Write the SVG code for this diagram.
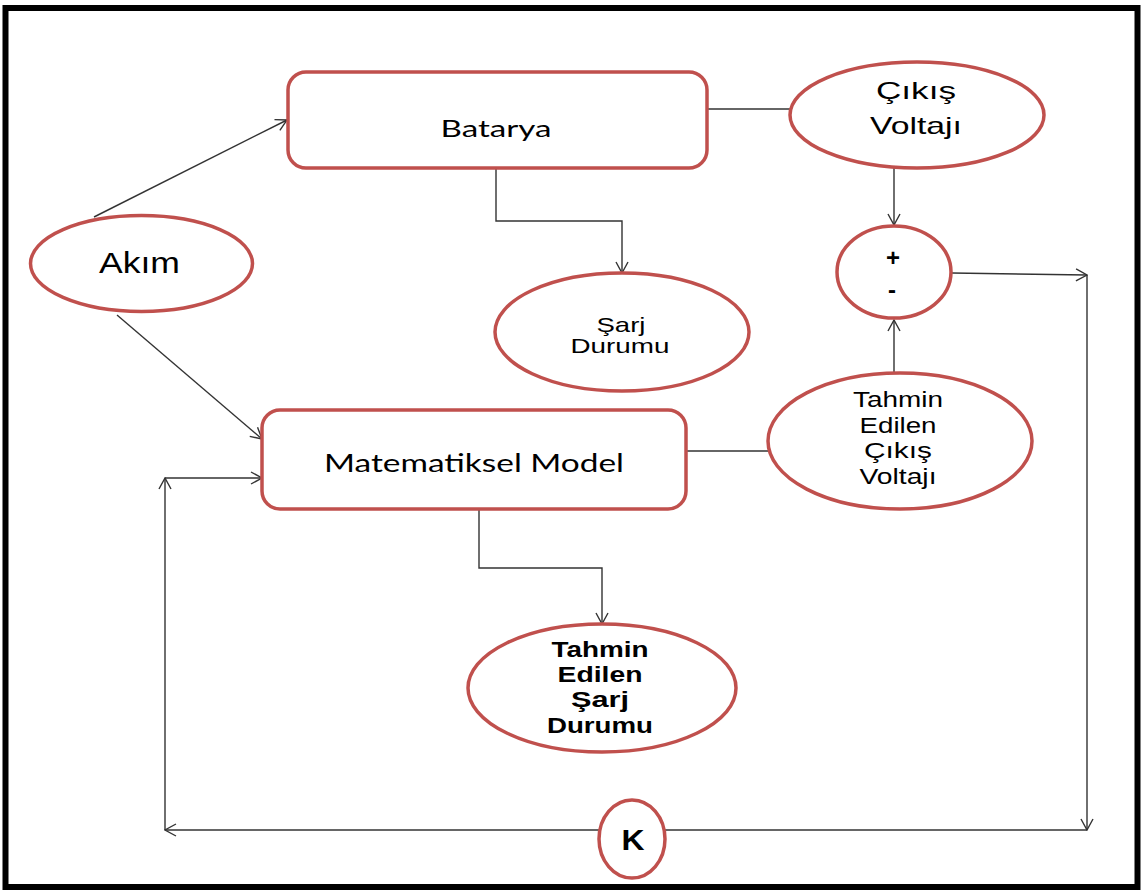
<svg xmlns="http://www.w3.org/2000/svg" width="1143" height="891" viewBox="0 0 1143 891">
<defs>
<marker id="arr" markerUnits="userSpaceOnUse" markerWidth="14" markerHeight="14" viewBox="0 0 14 14" refX="13" refY="7" orient="auto">
<path d="M2,1 L13,7 L2,13" fill="none" stroke="#333" stroke-width="1.4"/>
</marker>
<style>
.node{fill:#fff;stroke:#C0504D;stroke-width:3.5}
.conn{fill:none;stroke:#333;stroke-width:1.4}
.ar{font-family:"Liberation Sans",Arial,sans-serif;fill:#000;text-anchor:middle}
.cal{font-family:Lato,"Liberation Sans",sans-serif;fill:#000;text-anchor:middle}
.b{font-weight:bold}
</style>
</defs>
<rect x="5.5" y="8" width="1132" height="879" fill="#fff" stroke="#000" stroke-width="6"/>
<g id="connectors">
<line class="conn" x1="94" y1="217" x2="287" y2="120" marker-end="url(#arr)"/>
<line class="conn" x1="117" y1="315" x2="262" y2="439" marker-end="url(#arr)"/>
<line class="conn" x1="707" y1="109" x2="790" y2="109"/>
<line class="conn" x1="894" y1="168" x2="894" y2="225" marker-end="url(#arr)"/>
<polyline class="conn" points="496,168 496,221 622,221 622,273" marker-end="url(#arr)"/>
<line class="conn" x1="686" y1="451" x2="768" y2="451"/>
<line class="conn" x1="894" y1="373" x2="894" y2="320" marker-end="url(#arr)"/>
<polyline class="conn" points="479,509 479,568 602,568 602,624" marker-end="url(#arr)"/>
<line class="conn" x1="952" y1="273" x2="1087" y2="275" marker-end="url(#arr)"/>
<line class="conn" x1="1087" y1="275" x2="1087" y2="830" marker-end="url(#arr)"/>
<line class="conn" x1="1087" y1="830" x2="165" y2="830" marker-end="url(#arr)"/>
<line class="conn" x1="165" y1="830" x2="165" y2="478" marker-end="url(#arr)"/>
<line class="conn" x1="165" y1="478" x2="262" y2="478" marker-end="url(#arr)"/>
</g>
<g id="batarya">
<rect class="node" x="288" y="72" width="419" height="96" rx="18"/>
<text class="cal" x="496" y="137" font-size="24" textLength="111" lengthAdjust="spacingAndGlyphs">Batarya</text>
</g>
<g id="akim">
<ellipse class="node" cx="141.5" cy="263.5" rx="111" ry="48"/>
<text class="ar" x="139.5" y="273" font-size="29" textLength="81" lengthAdjust="spacingAndGlyphs">Akım</text>
</g>
<g id="cikis-voltaji">
<ellipse class="node" cx="917" cy="115" rx="127" ry="53"/>
<text class="ar" x="916" y="99" font-size="24" textLength="80" lengthAdjust="spacingAndGlyphs">Çıkış</text>
<text class="ar" x="916" y="134" font-size="24" textLength="92" lengthAdjust="spacingAndGlyphs">Voltajı</text>
</g>
<g id="toplayici">
<ellipse class="node" cx="894" cy="272" rx="57" ry="46"/>
<text class="ar b" x="893" y="266" font-size="24">+</text>
<text class="ar b" x="892" y="298" font-size="24">-</text>
</g>
<g id="sarj-durumu">
<ellipse class="node" cx="622" cy="332" rx="127" ry="59"/>
<text class="ar" x="621" y="332" font-size="21" textLength="49" lengthAdjust="spacingAndGlyphs">Şarj</text>
<text class="ar" x="620" y="353" font-size="21" textLength="99" lengthAdjust="spacingAndGlyphs">Durumu</text>
</g>
<g id="matematiksel-model">
<rect class="node" x="262" y="410" width="424" height="99" rx="18"/>
<text class="cal" x="474" y="472" font-size="25" textLength="300" lengthAdjust="spacingAndGlyphs">Matematiksel Model</text>
</g>
<g id="tahmin-cikis-voltaji">
<ellipse class="node" cx="900" cy="441" rx="132" ry="68"/>
<text class="ar" x="898" y="407" font-size="22" textLength="90" lengthAdjust="spacingAndGlyphs">Tahmin</text>
<text class="ar" x="898" y="433" font-size="22" textLength="77" lengthAdjust="spacingAndGlyphs">Edilen</text>
<text class="ar" x="898" y="458" font-size="22" textLength="68" lengthAdjust="spacingAndGlyphs">Çıkış</text>
<text class="ar" x="898" y="484" font-size="22" textLength="77" lengthAdjust="spacingAndGlyphs">Voltajı</text>
</g>
<g id="tahmin-sarj-durumu">
<ellipse class="node" cx="602" cy="688" rx="134" ry="64"/>
<text class="ar b" x="600" y="657" font-size="22" textLength="97" lengthAdjust="spacingAndGlyphs">Tahmin</text>
<text class="ar b" x="600" y="682" font-size="22" textLength="85" lengthAdjust="spacingAndGlyphs">Edilen</text>
<text class="ar b" x="600" y="707" font-size="22" textLength="58" lengthAdjust="spacingAndGlyphs">Şarj</text>
<text class="ar b" x="600" y="733" font-size="22" textLength="106" lengthAdjust="spacingAndGlyphs">Durumu</text>
</g>
<g id="k">
<ellipse class="node" cx="632" cy="839" rx="33" ry="39"/>
<text class="ar b" x="633" y="850" font-size="30" textLength="23" lengthAdjust="spacingAndGlyphs">K</text>
</g>
</svg>
